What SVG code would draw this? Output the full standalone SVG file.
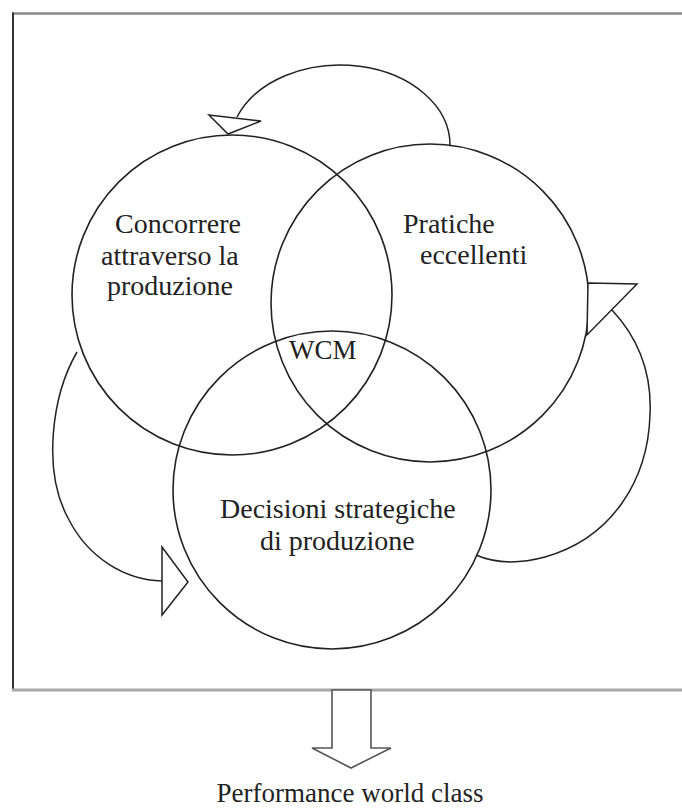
<svg xmlns="http://www.w3.org/2000/svg" width="682" height="810" viewBox="0 0 682 810">
<style>
  .ring { fill: none; stroke: #222; stroke-width: 1.6; }
  .conn { fill: none; stroke: #222; stroke-width: 1.5; }
  .head { fill: #fff; stroke: #222; stroke-width: 1.5; stroke-linejoin: miter; }
  .lbl { font-family: "Liberation Serif", "Times New Roman", serif; font-size: 28px; fill: #222; }
</style>
<rect x="0" y="0" width="682" height="810" fill="#fff"/>
<g id="frame">
  <line x1="12" y1="13.5" x2="682" y2="13.5" stroke="#8a8a8a" stroke-width="2.5"/>
  <line x1="13" y1="12.5" x2="13" y2="691" stroke="#333" stroke-width="2"/>
  <line x1="12" y1="690" x2="682" y2="690" stroke="#a8a8a8" stroke-width="3"/>
</g>
<g id="node-concorrere">
  <circle class="ring" cx="232" cy="295" r="160"/>
  <text class="lbl" x="115" y="233">Concorrere</text>
  <text class="lbl" x="101" y="265">attraverso la</text>
  <text class="lbl" x="107" y="295">produzione</text>
</g>
<g id="node-pratiche">
  <circle class="ring" cx="430" cy="303" r="159"/>
  <text class="lbl" x="403" y="233">Pratiche</text>
  <text class="lbl" x="420" y="264">eccellenti</text>
</g>
<g id="node-decisioni">
  <circle class="ring" cx="332" cy="490" r="159"/>
  <text class="lbl" x="220" y="518">Decisioni strategiche</text>
  <text class="lbl" x="260" y="550">di produzione</text>
</g>
<g id="node-wcm">
  <text class="lbl" x="289" y="359" style="font-size:27px">WCM</text>
</g>
<g id="connectors">
  <path class="conn" d="M450,145 A110,80 0 0 0 237,117"/>
  <polygon class="head" points="209,115 261,121 228,134"/>
  <path class="conn" d="M612,310 C640,340 652,375 650,415 C648,480 612,538 545,557 C515,565 492,562 476,555"/>
  <polygon class="head" points="588,283 637,284 587,335"/>
  <path class="conn" d="M77,352 C52,395 42,470 68,518 C88,558 125,580 162,581"/>
  <polygon class="head" points="162,547 188,582 162,615"/>
</g>
<g id="output-arrow">
  <polygon points="332,690 371,690 371,748 391,748 351,768 312,748 332,748" fill="#fff" stroke="#555" stroke-width="1.6" stroke-linejoin="miter"/>
</g>
<g id="node-performance">
  <text class="lbl" x="350" y="802" text-anchor="middle" style="font-size:27px">Performance world class</text>
</g>
</svg>
